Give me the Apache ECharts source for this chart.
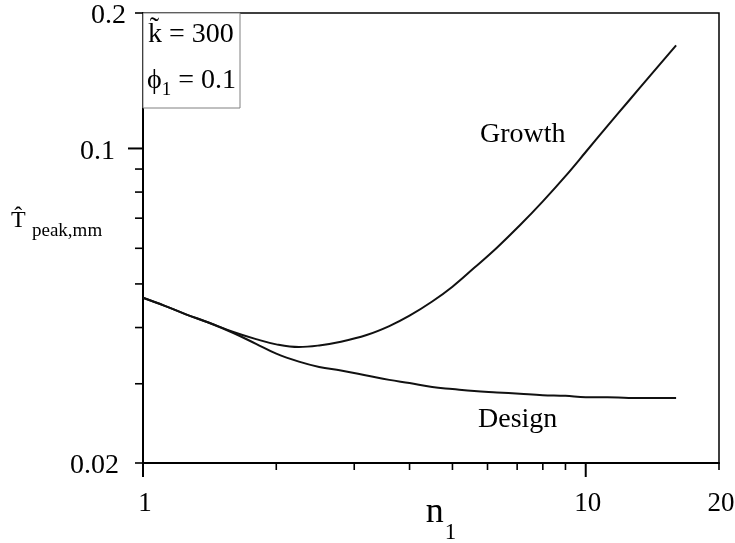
<!DOCTYPE html>
<html>
<head>
<meta charset="utf-8">
<script src="https://cdn.jsdelivr.net/npm/echarts@6/dist/echarts.min.js"></script>
<style>
  html, body { margin: 0; padding: 0; background: #fff; }
  #chart { width: 735px; height: 543px; }
</style>
</head>
<body>
<div id="chart"></div>
<script>
// n1 sample points shared by both curves
const nValues = [1, 1.12, 1.25, 1.4, 1.6, 1.8, 2, 2.25, 2.5, 2.8, 3.2, 3.6, 4, 4.5, 5, 5.6, 6.3, 7.1, 8, 9,
  10, 11.2, 12.5, 14, 16];
// peak temperature, growth condition
const growthValues = [0.0466, 0.0447, 0.0428, 0.0411, 0.0391, 0.0377, 0.0367, 0.0362, 0.0365, 0.0372, 0.0385,
  0.0403, 0.0425, 0.0457, 0.0493, 0.0543, 0.0602, 0.0675, 0.0763, 0.0868, 0.0982, 0.1123, 0.1275, 0.1454, 0.1695];
// peak temperature, design condition
const designValues = [0.0466, 0.0447, 0.0428, 0.0411, 0.0389, 0.0368, 0.0350, 0.0336, 0.0327, 0.0321, 0.0313,
  0.0306, 0.0301, 0.0295, 0.0292, 0.0289, 0.0287, 0.0285, 0.0283, 0.0282, 0.0280, 0.0280, 0.0279, 0.0279, 0.0279];

// axis ranges and labelled ticks
const xRange = [1, 20];
const yRange = [0.02, 0.2];
const xTickLabels = [1, 10, 20];
const yTickLabels = [0.02, 0.1, 0.2];
// tick marks (log decades)
const xMajorTicks = [1, 10];
const xMinorTicks = [2, 3, 4, 5, 6, 7, 8, 9, 20];
const yMajorTicks = [0.1];
const yMinorTicks = [0.02, 0.03, 0.04, 0.05, 0.06, 0.07, 0.08, 0.09, 0.2];

const FONT = '"Liberation Serif", "Times New Roman", serif';

function pairs(xs, ys) {
  return xs.map((x, i) => [x, ys[i]]);
}

function matchLabel(list, v) {
  for (const t of list) {
    if (Math.abs(Math.log10(v) - Math.log10(t)) < 1e-6) return t;
  }
  return null;
}

// short tick strokes placed through the axis scales
function tickSeries(values, dir, len, width) {
  return {
    type: 'custom',
    silent: true,
    clip: false,
    z: 5,
    data: values.map(v => dir === 'x' ? [v, yRange[0]] : [xRange[0], v]),
    renderItem: function (params, api) {
      const p = api.coord([api.value(0), api.value(1)]);
      const shape = dir === 'x'
        ? { x1: p[0], y1: p[1], x2: p[0], y2: p[1] + len }
        : { x1: p[0] - len, y1: p[1], x2: p[0], y2: p[1] };
      return { type: 'line', shape: shape, style: { stroke: '#000', lineWidth: width } };
    }
  };
}

const chart = echarts.init(document.getElementById('chart'), null, { renderer: 'canvas' });

chart.setOption({
  animation: false,
  backgroundColor: '#fff',
  grid: {
    left: 143, right: 16, top: 13, bottom: 80,
    containLabel: false, outerBoundsMode: 'none',
    show: true, borderColor: '#000', borderWidth: 1.5, backgroundColor: 'transparent'
  },
  xAxis: {
    type: 'log', logBase: 10, min: xRange[0], max: xRange[1],
    axisLine: { lineStyle: { color: '#000', width: 2 } },
    axisTick: { show: false },
    splitLine: { show: false },
    minorTick: { show: false },
    axisLabel: {
      color: '#000', fontFamily: FONT, fontSize: 27, margin: 27,
      showMinLabel: true, showMaxLabel: true, hideOverlap: false,
      formatter: function (v) {
        const t = matchLabel(xTickLabels, v);
        return t === null ? '' : '{d|' + String(t) + '}';
      },
      rich: {
        d: { fontFamily: FONT, fontSize: 27, color: '#000', padding: [0, 0, 0, 4] }
      }
    },
    name: '{n|n}{s|1}',
    nameLocation: 'middle',
    nameGap: 32,
    nameMoveOverlap: false,
    nameTextStyle: {
      color: '#000', fontFamily: FONT,
      rich: {
        n: { fontFamily: FONT, fontSize: 36, lineHeight: 36, verticalAlign: 'top', color: '#000', padding: [0, 0, 0, 20] },
        s: { fontFamily: FONT, fontSize: 23, lineHeight: 23, verticalAlign: 'top', padding: [26, 0, 0, 1], color: '#000' }
      }
    }
  },
  yAxis: {
    type: 'log', logBase: 10, min: yRange[0], max: yRange[1],
    axisLine: { lineStyle: { color: '#000', width: 2 } },
    axisTick: { show: false },
    splitLine: { show: false },
    minorTick: { show: false },
    axisLabel: {
      color: '#000', fontFamily: FONT, fontSize: 28, margin: 17,
      showMinLabel: true, showMaxLabel: true, hideOverlap: false,
      formatter: function (v) {
        const t = matchLabel(yTickLabels, v);
        if (t === null) return '';
        if (t === 0.1) return '{w|0.1}';
        if (t === 0.02) return '{m|0.02}';
        return '{d|' + String(t) + '}';
      },
      rich: {
        d: { fontFamily: FONT, fontSize: 28, color: '#000', padding: [6, 0, 0, 0] },
        w: { fontFamily: FONT, fontSize: 28, color: '#000', padding: [6, 11, 0, 0] },
        m: { fontFamily: FONT, fontSize: 28, color: '#000', padding: [6, 7, 0, 0] }
      }
    }
  },
  series: [
    {
      name: 'Growth', type: 'line', data: pairs(nValues, growthValues),
      smooth: 0.4, showSymbol: false, symbol: 'none',
      lineStyle: { color: '#111', width: 2 }, z: 3
    },
    {
      name: 'Design', type: 'line', data: pairs(nValues, designValues),
      smooth: 0.4, showSymbol: false, symbol: 'none',
      lineStyle: { color: '#111', width: 2 }, z: 3
    },
    tickSeries(xMajorTicks, 'x', 14, 2),
    tickSeries(xMinorTicks, 'x', 7, 1.6),
    tickSeries(yMajorTicks, 'y', 15, 2),
    tickSeries(yMinorTicks, 'y', 8, 1.6)
  ],
  graphic: [
    // parameter box in the upper-left corner
    {
      type: 'rect', z: 1,
      shape: { x: 143, y: 13, width: 97, height: 95 },
      style: { fill: '#fff', stroke: '#808080', lineWidth: 1 }
    },
    {
      type: 'text', z: 10, x: 148, y: 21,
      style: { text: 'k\u0303 = 300', font: '28px ' + FONT, fill: '#000' }
    },
    {
      type: 'text', z: 10, x: 147, y: 67,
      style: {
        text: '{a|\u03D5}{s|1}{a| = 0.1}',
        fill: '#000',
        rich: {
          a: { fontFamily: FONT, fontSize: 28, lineHeight: 28, verticalAlign: 'top', fill: '#000' },
          s: { fontFamily: FONT, fontSize: 19, lineHeight: 19, verticalAlign: 'top', padding: [14, 0, 0, 0], fill: '#000' }
        }
      }
    },
    // y-axis title
    {
      type: 'text', z: 10, x: 11, y: 209,
      style: { text: 'T\u0302', font: '24px ' + FONT, fill: '#000' }
    },
    {
      type: 'text', z: 10, x: 32, y: 222,
      style: { text: 'peak,mm', font: '19px ' + FONT, fill: '#000' }
    },
    // curve names
    {
      type: 'text', z: 10, x: 480, y: 121,
      style: { text: 'Growth', font: '28px ' + FONT, fill: '#000' }
    },
    {
      type: 'text', z: 10, x: 478, y: 406,
      style: { text: 'Design', font: '28px ' + FONT, fill: '#000' }
    }
  ]
});
</script>
</body>
</html>
